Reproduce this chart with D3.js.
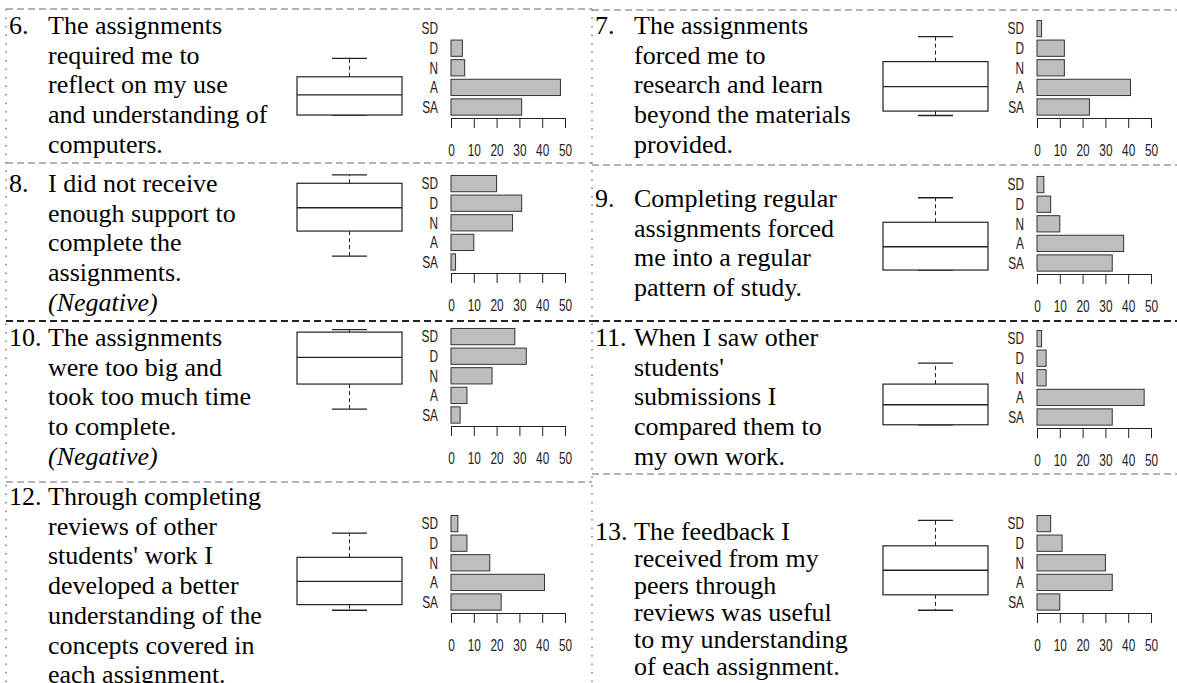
<!DOCTYPE html>
<html>
<head>
<meta charset="utf-8">
<script src="https://cdn.jsdelivr.net/npm/d3@7"></script>
<style>
  body { margin: 0; background: #fff; }
  svg { display: block; }
  .q { font-family: "Liberation Serif", "Times New Roman", serif; font-size: 26px; fill: #000; }
  .small { font-family: "Liberation Sans", Arial, sans-serif; font-size: 16px; fill: #222; }
</style>
</head>
<body>
<svg id="chart"></svg>
<script>
// answer categories and axis ticks
const categories = ["SD", "D", "N", "A", "SA"];
const tickValues = [0, 10, 20, 30, 40, 50];

// question numbers and wording
const numbers = ["6.", "7.", "8.", "9.", "10.", "11.", "12.", "13."];
const q6Text = ["The assignments", "required me to", "reflect on my use", "and understanding of", "computers."];
const q7Text = ["The assignments", "forced me to", "research and learn", "beyond the materials", "provided."];
const q8Text = ["I did not receive", "enough support to", "complete the", "assignments.", "(Negative)"];
const q9Text = ["Completing regular", "assignments forced", "me into a regular", "pattern of study."];
const q10Text = ["The assignments", "were too big and", "took too much time", "to complete.", "(Negative)"];
const q11Text = ["When I saw other", "students'", "submissions I", "compared them to", "my own work."];
const q12Text = ["Through completing", "reviews of other", "students' work I", "developed a better", "understanding of the", "concepts covered in", "each assignment."];
const q13Text = ["The feedback I", "received from my", "peers through", "reviews was useful", "to my understanding", "of each assignment."];

// response counts, in the order SD, D, N, A, SA
const q6Counts = [0, 5, 6, 48, 31];
const q7Counts = [2, 12, 12, 41, 23];
const q8Counts = [20, 31, 27, 10, 2];
const q9Counts = [3, 6, 10, 38, 33];
const q10Counts = [28, 33, 18, 7, 4];
const q11Counts = [2, 4, 4, 47, 33];
const q12Counts = [3, 7, 17, 41, 22];
const q13Counts = [6, 11, 30, 33, 10];

// boxplot stats: lower whisker, Q1, median, Q3, upper whisker
const q6Box = [1.02, 1.02, 1.84, 2.58, 3.33];
const q7Box = [1.0, 1.18, 2.18, 3.20, 4.22];
const q8Box = [1.59, 2.61, 3.56, 4.56, 4.90];
const q9Box = [1.06, 1.06, 2.01, 3.01, 4.01];
const q10Box = [1.59, 2.61, 3.70, 4.73, 4.83];
const q11Box = [1.03, 1.03, 1.85, 2.69, 3.55];
const q12Box = [1.01, 1.24, 2.19, 3.17, 4.16];
const q13Box = [1.01, 1.64, 2.64, 3.64, 4.68];

const texts = [q6Text, q7Text, q8Text, q9Text, q10Text, q11Text, q12Text, q13Text];
const counts = [q6Counts, q7Counts, q8Counts, q9Counts, q10Counts, q11Counts, q12Counts, q13Counts];
const boxes = [q6Box, q7Box, q8Box, q9Box, q10Box, q11Box, q12Box, q13Box];

const width = 1177, height = 683;
const colX = [0, 586];
const colEdge = [6, 592, 1177];

// where each cell sits on the page
const layout = [
  { col: 0, top: 9,   base: 34,  lh: 29.7, axisY: 118 },
  { col: 1, top: 10,  base: 34,  lh: 29.7, axisY: 118 },
  { col: 0, top: 163, base: 192, lh: 29.7, axisY: 273 },
  { col: 1, top: 165, base: 207, lh: 29.7, axisY: 274 },
  { col: 0, top: 321, base: 346, lh: 29.7, axisY: 426 },
  { col: 1, top: 321, base: 346, lh: 29.7, axisY: 428 },
  { col: 0, top: 482, base: 505, lh: 29.7, axisY: 613 },
  { col: 1, top: 474, base: 540, lh: 27,   axisY: 613 }
];

const svg = d3.select("#chart").attr("width", width).attr("height", height);

// cell borders
layout.forEach(function(p) {
  svg.append("line")
    .attr("x1", colEdge[p.col]).attr("x2", colEdge[p.col + 1])
    .attr("y1", p.top).attr("y2", p.top)
    .attr("stroke", p.top === 321 ? "#222" : "#666")
    .attr("stroke-width", p.top === 321 ? 2 : 1)
    .attr("stroke-dasharray", "7,4");
});
[colEdge[0], colEdge[1]].forEach(function(x) {
  svg.append("line")
    .attr("x1", x).attr("x2", x).attr("y1", 9).attr("y2", height)
    .attr("stroke", "#777").attr("stroke-width", 1.5)
    .attr("stroke-dasharray", "1.5,7");
});

const x = d3.scaleLinear().domain([0, 50]).range([0, 114]);

layout.forEach(function(p, i) {
  const ox = colX[p.col];
  const g = svg.append("g");

  // question text
  g.append("text").attr("class", "q").attr("x", ox + 9).attr("y", p.base).text(numbers[i]);
  g.selectAll("text.line")
    .data(texts[i])
    .enter()
    .append("text")
    .attr("class", "q line")
    .attr("x", ox + 48)
    .attr("y", function(d, k) { return p.base + k * p.lh; })
    .style("font-style", function(d) { return d === "(Negative)" ? "italic" : "normal"; })
    .text(function(d) { return d; });

  // boxplot
  const y = d3.scaleLinear().domain([1, 5]).range([p.axisY - 2.5, p.axisY - 100.5]);
  const b = boxes[i];
  const bx0 = ox + 297, bx1 = ox + 402, bcx = (bx0 + bx1) / 2;
  const bp = g.append("g").attr("stroke", "#222").attr("fill", "none");
  bp.append("line").attr("x1", bcx).attr("x2", bcx).attr("y1", y(b[3])).attr("y2", y(b[4]))
    .attr("stroke-dasharray", "4,3");
  bp.append("line").attr("x1", bcx).attr("x2", bcx).attr("y1", y(b[1])).attr("y2", y(b[0]))
    .attr("stroke-dasharray", "4,3");
  bp.selectAll("line.cap")
    .data([b[0], b[4]])
    .enter().append("line")
    .attr("class", "cap")
    .attr("x1", bcx - 17.5).attr("x2", bcx + 17.5)
    .attr("y1", function(d) { return y(d); }).attr("y2", function(d) { return y(d); })
    .attr("stroke-width", 1.3);
  bp.append("rect")
    .attr("x", bx0).attr("width", bx1 - bx0)
    .attr("y", y(b[3])).attr("height", y(b[1]) - y(b[3]))
    .attr("fill", "#fff").attr("stroke-width", 1.2);
  bp.append("line").attr("x1", bx0).attr("x2", bx1).attr("y1", y(b[2])).attr("y2", y(b[2]))
    .attr("stroke-width", 1.4);

  // horizontal bar chart
  const x0 = ox + 451;
  const step = 19.6;
  const band = d3.scaleBand()
    .domain(categories)
    .range([p.axisY - 11 - 4 * step - step / 2, p.axisY - 11 + step / 2])
    .paddingInner(0.17).paddingOuter(0.085);

  const bars = g.append("g").attr("transform", "translate(" + x0 + ",0)");
  bars.selectAll("rect")
    .data(categories)
    .enter()
    .append("rect")
    .attr("x", 0)
    .attr("y", function(d) { return band(d); })
    .attr("width", function(d, k) { return x(counts[i][k]); })
    .attr("height", band.bandwidth())
    .attr("fill", "#bebebe")
    .attr("stroke", "#333")
    .attr("stroke-width", 1);

  bars.selectAll("text.cat")
    .data(categories)
    .enter()
    .append("text")
    .attr("class", "small cat")
    .attr("text-anchor", "end")
    .attr("transform", function(d) {
      return "translate(-13," + (band(d) + band.bandwidth() / 2 + 5.8) + ") scale(0.74,1)";
    })
    .text(function(d) { return d; });

  const axis = g.append("g")
    .attr("transform", "translate(" + x0 + "," + p.axisY + ")")
    .call(d3.axisBottom(x).tickValues(tickValues).tickSize(10).tickSizeOuter(0).tickPadding(17));
  axis.select(".domain").attr("stroke", "#222");
  axis.selectAll(".tick line").attr("stroke", "#222");
  axis.selectAll(".tick text")
    .attr("class", "small")
    .attr("font-family", null).attr("font-size", null)
    .attr("transform", "scale(0.74,1)");
});
</script>
</body>
</html>
